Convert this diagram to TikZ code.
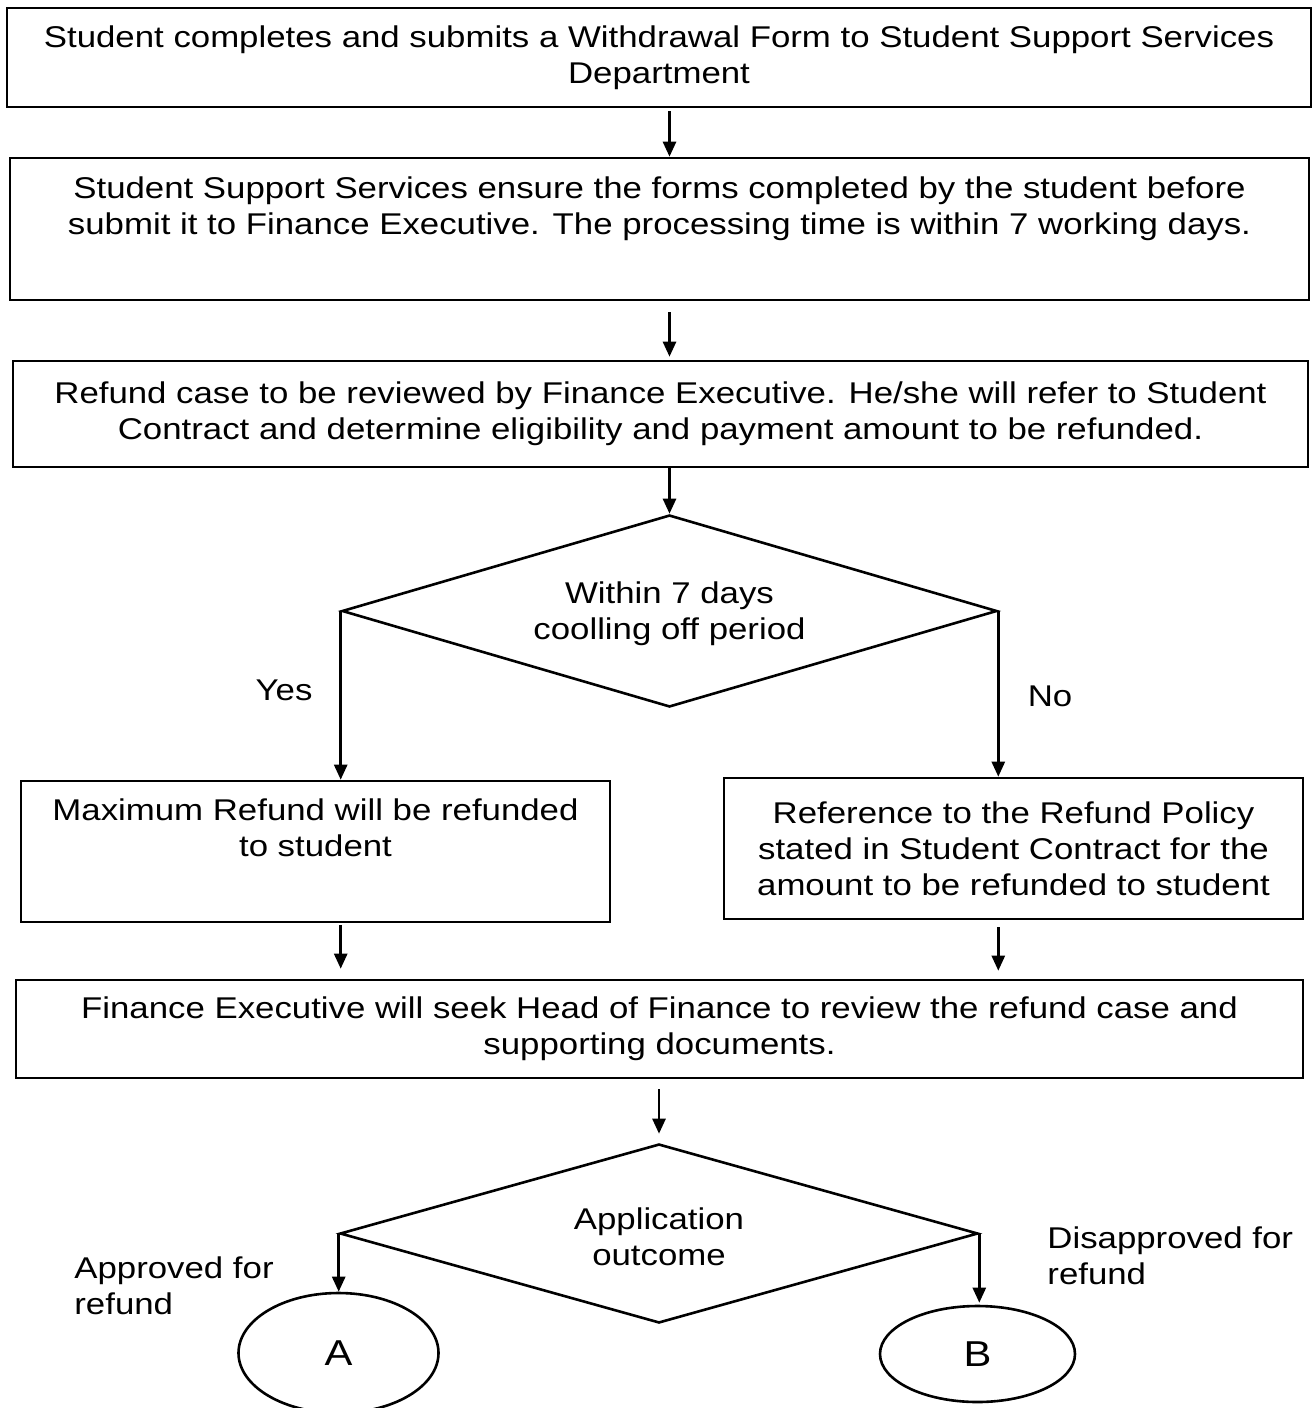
\documentclass[tikz,border=0pt]{standalone}
\usepackage{fontspec}
\setmainfont{Liberation Sans}[FakeStretch=1.16]
\usetikzlibrary{shapes.geometric,arrows.meta}
\begin{document}
\begin{tikzpicture}[x=0.5pt,y=-0.5pt,
  every node/.style={font=\fontsize{15}{18}\selectfont},
  box/.style={draw,line width=1.3pt,rectangle,inner sep=0pt,align=center},
  dec/.style={draw,line width=1.3pt,diamond,inner sep=0pt,align=center},
  term/.style={draw,line width=1.3pt,ellipse,inner sep=0pt,font=\fontsize{18}{20}\selectfont},
  arr/.style={line width=1.3pt,-{Triangle[length=7.5pt,width=6.5pt]}},
  lbl/.style={inner sep=0pt}]
\useasboundingbox (0,0) rectangle (1312,1408);

\node[box,minimum width=652pt,minimum height=49.5pt] (b1) at (659,57.5)
  {Student completes and submits a Withdrawal Form to Student Support Services\\Department};
\node[box,minimum width=649.5pt,minimum height=71pt] (b2) at (659.5,229)
  {Student Support Services ensure the forms completed by the student before\\submit it to Finance Executive. The processing time is within 7 working days.\\\strut};
\node[box,minimum width=647.5pt,minimum height=53pt] (b3) at (660.5,414)
  {Refund case to be reviewed by Finance Executive. He/she will refer to Student\\Contract and determine eligibility and payment amount to be refunded.};
\node[dec,minimum width=327.5pt,minimum height=96pt] (d1) at (669.5,611) {};
\node[lbl,align=center] (d1t) at (669.5,614) {Within 7 days\\coolling off period};
\node[box,minimum width=294.5pt,minimum height=70.5pt] (b4) at (315.5,851.5)
  {Maximum Refund will be refunded\\to student\\\strut};
\node[box,minimum width=289.5pt,minimum height=70.5pt] (b5) at (1013.5,848.5)
  {Reference to the Refund Policy\\stated in Student Contract for the\\amount to be refunded to student};
\node[box,minimum width=643.5pt,minimum height=49pt] (b6) at (659.5,1029)
  {Finance Executive will seek Head of Finance to review the refund case and\\supporting documents.};
\node[dec,minimum width=319pt,minimum height=89.5pt] (d2) at (659,1233.5) {};
\node[lbl,align=center] (d2t) at (659,1237) {Application\\outcome};
\node[term,minimum width=100pt,minimum height=60pt] (A) at (338.5,1353) {A};
\node[term,minimum width=97.5pt,minimum height=48pt] (B) at (977.5,1354) {B};

\node[lbl] (yes) at (284,690) {Yes};
\node[lbl] (no) at (1050,696) {No};
\node[lbl,align=left,anchor=west] (appr) at (74,1286) {Approved for\\refund};
\node[lbl,align=left,anchor=west] (disap) at (1047,1256) {Disapproved for\\refund};

\draw[arr] (b1.south -| d1) ++(0,3) -- (b2.north -| d1);
\draw[arr] (b2.south -| d1) ++(0,11) -- ([yshift=1.5pt]b3.north -| d1);
\draw[arr] (b3.south -| d1) -- (d1.north);
\draw[arr] (d1.west) -- (d1.west |- b4.north);
\draw[arr] (d1.east) -- (d1.east |- b5.north);
\draw[arr] (b4.south -| d1.west) ++(0,2) -- ([yshift=5pt]b6.north -| d1.west);
\draw[arr] (b5.south -| d1.east) ++(0,7) -- ([yshift=4pt]b6.north -| d1.east);
\draw[arr] (b6.south -| d2) ++(0,10) -- ([yshift=4.5pt]d2.north);
\draw[arr] (d2.west) -- (d2.west |- A.north);
\draw[arr] (d2.east) -- ([yshift=1pt]d2.east |- B.north);
\end{tikzpicture}
\end{document}
